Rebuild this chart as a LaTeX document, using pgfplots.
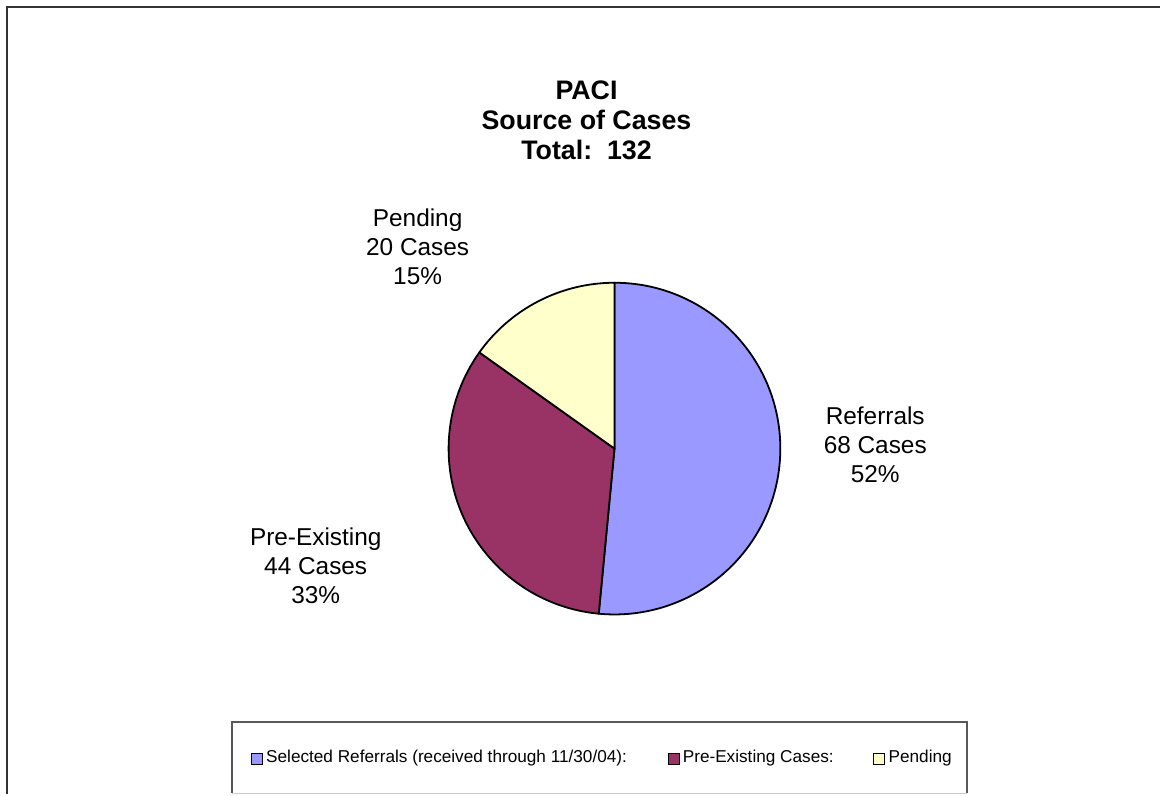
\documentclass[border=0pt]{standalone}
\usepackage{pgfplots}
\usepackage{pgfplotstable}
\pgfplotsset{compat=1.18}
\usepackage{fontspec}
\setmainfont{Liberation Sans}
\definecolor{refc}{HTML}{9999FF}
\definecolor{prec}{HTML}{993366}
\definecolor{penc}{HTML}{FFFFCC}
\definecolor{frame}{HTML}{333333}

% slice values (cases)
\pgfplotstableread{
label value colour
Referrals 68 refc
PreExisting 44 prec
Pending 20 penc
}\piedata

\begin{document}
\begin{tikzpicture}
\begin{axis}[
  x=0.5pt, y=0.5pt,
  xmin=0, xmax=1161, ymin=0, ymax=795,
  hide axis, clip=false,
]
\path (axis cs:0,0) rectangle (axis cs:1161,795);

% outer frame (bottom and right cut off)
\draw[frame, line width=1pt] (axis cs:7,0) -- (axis cs:7,788) -- (axis cs:1161,788);

% total of the slices
\def\total{0}
\pgfplotsforeachungrouped \i in {0,1,2}{
  \pgfplotstablegetelem{\i}{value}\of\piedata
  \pgfmathsetmacro\total{\total+\pgfplotsretval}
}

% slices, clockwise from 12 o'clock
\def\acc{90}
\pgfplotsforeachungrouped \i in {0,1,2}{
  \pgfplotstablegetelem{\i}{value}\of\piedata \let\v\pgfplotsretval
  \pgfplotstablegetelem{\i}{colour}\of\piedata \let\c\pgfplotsretval
  \pgfmathsetmacro\aend{\acc-\v/\total*360}
  \edef\temp{\noexpand\filldraw[fill=\c, draw=black, line width=0.9pt, line join=round]
    (axis cs:615,346) -- ++(\acc:83pt) arc[start angle=\acc, end angle=\aend, radius=83pt] -- cycle;}
  \temp
  \global\let\acc\aend
}

% title and slice labels
\node[align=center, font=\fontsize{13.4}{15}\selectfont\bfseries]
  at (axis cs:587,675) {PACI\\Source of Cases\\Total:\ \ 132};
\node[align=center, font=\fontsize{12.2}{14.5}\selectfont]
  at (axis cs:876,350) {Referrals\\68 Cases\\52\%};
\node[align=center, font=\fontsize{12.2}{14.5}\selectfont]
  at (axis cs:418,548) {Pending\\20 Cases\\15\%};
\node[align=center, font=\fontsize{12.2}{14.5}\selectfont]
  at (axis cs:316,229) {Pre-Existing\\44 Cases\\33\%};

% legend box
\draw[gray!70!black, line width=1pt] (axis cs:232,1) -- (axis cs:232,72) -- (axis cs:968,72) -- (axis cs:968,1);
\draw[gray!40, line width=0.8pt] (axis cs:232,1) -- (axis cs:968,1);
\filldraw[fill=refc, draw=black, line width=0.6pt] (axis cs:252,30) rectangle (axis cs:263,41);
\filldraw[fill=prec, draw=black, line width=0.6pt] (axis cs:669,30) rectangle (axis cs:680,41);
\filldraw[fill=penc, draw=black, line width=0.6pt] (axis cs:874,30) rectangle (axis cs:885,41);
\node[anchor=west, inner sep=0pt, font=\fontsize{8.6}{10}\selectfont] at (axis cs:266,36)
  {Selected Referrals (received through 11/30/04):};
\node[anchor=west, inner sep=0pt, font=\fontsize{8.6}{10}\selectfont] at (axis cs:683,36)
  {Pre-Existing Cases:};
\node[anchor=west, inner sep=0pt, font=\fontsize{8.6}{10}\selectfont] at (axis cs:889,36)
  {Pending};
\end{axis}
\end{tikzpicture}
\end{document}
